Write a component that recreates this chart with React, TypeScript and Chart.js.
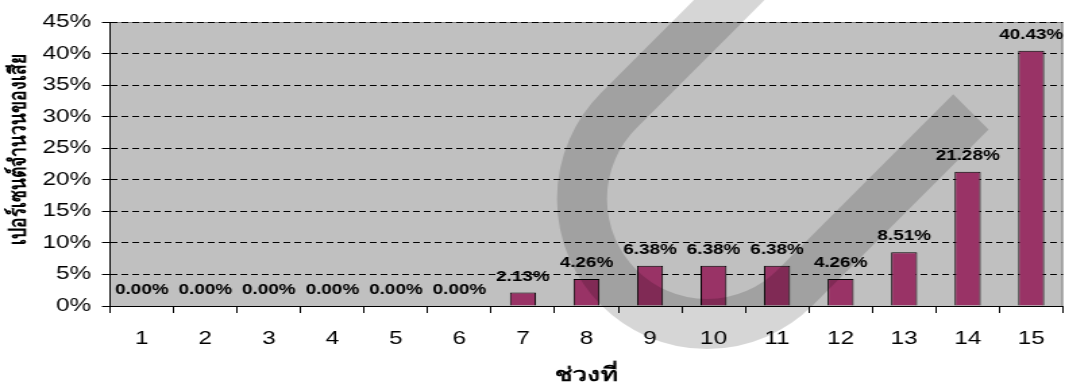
import { useEffect, useRef } from 'react';
import { Chart, registerables } from 'chart.js';

Chart.register(...registerables);

// Period numbers along the x axis
const periods = ['1', '2', '3', '4', '5', '6', '7', '8', '9', '10', '11', '12', '13', '14', '15'];
// Share of defective units per period (%)
const defectShare = [0, 0, 0, 0, 0, 0, 2.13, 4.26, 6.38, 6.38, 6.38, 4.26, 8.51, 21.28, 40.43];
// Percentage ticks on the y axis
const yTicks = [0, 5, 10, 15, 20, 25, 30, 35, 40, 45];

const yAxisTitle = 'เปอร์เซนต์จำนวนของเสีย';
const xAxisTitle = 'ช่วงที่';

// The chart is laid out on a narrower canvas and shown stretched to the final width,
// which gives the wide, flat lettering of the original export.
const VIEW_W = 1065;
const VIEW_H = 385;
const DRAW_W = 789;
const STRETCH = VIEW_W / DRAW_W;

const SANS = "'Liberation Sans', Arial, sans-serif";

// Gray plot area with a thin gray frame on the top and right
const plotBackground = {
  id: 'plotBackground',
  beforeDraw(chart: any) {
    const { ctx, chartArea: a } = chart;
    ctx.save();
    ctx.fillStyle = '#c0c0c0';
    ctx.fillRect(a.left, a.top, a.right - a.left, a.bottom - a.top);
    ctx.strokeStyle = '#808080';
    ctx.lineWidth = 1;
    ctx.beginPath();
    ctx.moveTo(a.left, a.top + 0.5);
    ctx.lineTo(a.right - 0.5, a.top + 0.5);
    ctx.lineTo(a.right - 0.5, a.bottom);
    ctx.stroke();
    ctx.restore();
  },
};

// Rotated y-axis caption
const yCaption = {
  id: 'yCaption',
  afterDraw(chart: any) {
    const { ctx } = chart;
    ctx.save();
    ctx.translate(19.5 / STRETCH, 149);
    ctx.rotate(-Math.PI / 2);
    ctx.font = `bold 17.5px ${SANS}`;
    ctx.fillStyle = '#000';
    ctx.textAlign = 'center';
    ctx.textBaseline = 'middle';
    ctx.fillText(yAxisTitle, 0, 0);
    ctx.restore();
  },
};

// Value labels above every bar
const valueLabels = {
  id: 'valueLabels',
  afterDatasetsDraw(chart: any) {
    const { ctx } = chart;
    const meta = chart.getDatasetMeta(0);
    ctx.save();
    ctx.font = `bold 14px ${SANS}`;
    ctx.fillStyle = '#000';
    ctx.textAlign = 'center';
    ctx.textBaseline = 'alphabetic';
    meta.data.forEach((bar: any, i: number) => {
      ctx.fillText(`${defectShare[i].toFixed(2)}%`, bar.x, bar.y - 12);
    });
    ctx.restore();
  },
};

// Translucent gray hook-shaped stamp laid over the whole figure
const stamp = {
  id: 'stamp',
  afterDraw(chart: any) {
    const { ctx } = chart;
    const cx = 707;
    const cy = 199;
    const r = 125;
    const d = r / Math.SQRT2;
    ctx.save();
    ctx.scale(1 / STRETCH, 1);
    ctx.strokeStyle = 'rgba(0,0,0,0.16)';
    ctx.lineWidth = 50;
    ctx.lineCap = 'butt';
    ctx.beginPath();
    ctx.moveTo(cx - d + 150, cy - d - 150);
    ctx.lineTo(cx - d, cy - d);
    ctx.arc(cx, cy, r, (5 * Math.PI) / 4, Math.PI / 4, true);
    ctx.lineTo(cx + d + 175.5, cy + d - 175.5);
    ctx.stroke();
    ctx.restore();
  },
};

export default function App() {
  const canvasRef = useRef<HTMLCanvasElement | null>(null);

  useEffect(() => {
    const canvas = canvasRef.current;
    if (!canvas) return;
    const chart = new Chart(canvas, {
      type: 'bar',
      data: {
        labels: periods,
        datasets: [
          {
            data: defectShare,
            backgroundColor: '#993366',
            borderColor: '#000000',
            borderWidth: 1,
            barPercentage: 0.41,
            categoryPercentage: 1,
          },
        ],
      },
      options: {
        responsive: false,
        devicePixelRatio: 1,
        animation: false,
        events: [],
        layout: { padding: { top: 22, right: 1, left: 0, bottom: 0 } },
        plugins: {
          legend: { display: false },
          tooltip: { enabled: false },
        },
        scales: {
          x: {
            offset: true,
            grid: {
              offset: true,
              drawOnChartArea: false,
              drawTicks: true,
              tickLength: 7,
              color: '#000',
              tickColor: '#000',
            },
            border: { display: true, color: '#000', width: 1 },
            ticks: {
              color: '#000',
              padding: 15,
              font: { family: SANS, size: 18 },
              maxRotation: 0,
              autoSkip: false,
            },
            title: {
              display: true,
              text: xAxisTitle,
              color: '#000',
              font: { family: SANS, size: 19.5, weight: 'bold', lineHeight: 1 },
              padding: { top: 0, bottom: 0 },
            },
            afterFit(scale: any) {
              scale.height = 79;
            },
          },
          y: {
            min: 0,
            max: 45,
            afterBuildTicks(axis: any) {
              axis.ticks = yTicks.map((v) => ({ value: v }));
            },
            grid: {
              color: '#000',
              lineWidth: 1,
              tickBorderDash: [],
              tickColor: '#000',
              tickLength: 6,
              drawTicks: true,
            },
            // dash pattern of the horizontal grid lines; the axis line itself stays solid
            border: { display: true, color: '#000', width: 1, dash: [5, 3] },
            ticks: {
              color: '#000',
              padding: 8,
              font: { family: SANS, size: 18 },
              callback: (v: any) => `${v}%`,
            },
            afterFit(scale: any) {
              scale.width = 81.5;
            },
          },
        },
      },
      plugins: [plotBackground, valueLabels, yCaption, stamp],
    } as any);
    return () => chart.destroy();
  }, []);

  return (
    <div style={{ position: 'absolute', left: 0, top: 0, width: VIEW_W, height: VIEW_H, background: '#fff' }}>
      <canvas
        ref={canvasRef}
        width={DRAW_W}
        height={VIEW_H}
        style={{ width: `${VIEW_W}px`, height: `${VIEW_H}px`, display: 'block' }}
      />
    </div>
  );
}
